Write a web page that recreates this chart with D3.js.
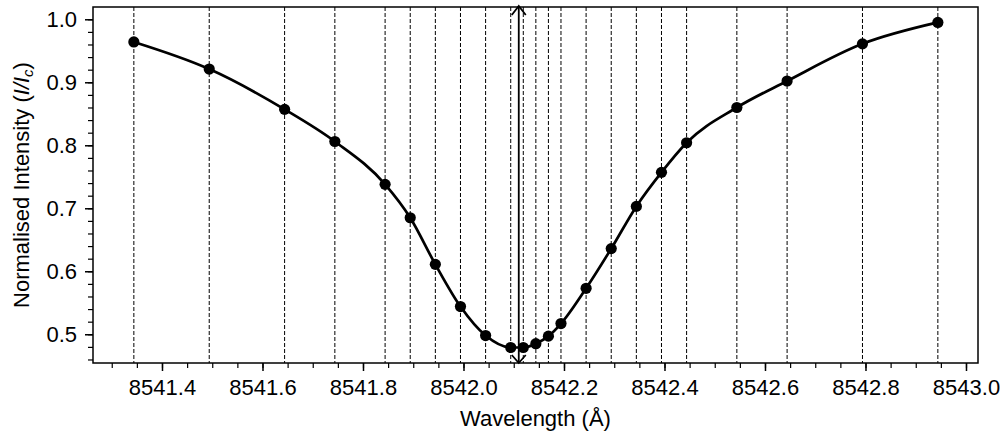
<!DOCTYPE html>
<html>
<head>
<meta charset="utf-8">
<script src="https://cdn.jsdelivr.net/npm/d3@7"></script>
<style>
  html, body { margin: 0; padding: 0; background: #fff; }
  svg { display: block; }
  text { font-family: "Liberation Sans", Arial, Helvetica, sans-serif; fill: #000; }
</style>
</head>
<body>
<svg id="chart" width="1003" height="436"></svg>
<script>
// ---- data ----
const wavelengths = [8541.344, 8541.494, 8541.644, 8541.744, 8541.844, 8541.894, 8541.944, 8541.994,
  8542.044, 8542.094, 8542.119, 8542.144, 8542.169, 8542.194, 8542.244, 8542.294, 8542.344,
  8542.394, 8542.444, 8542.544, 8542.644, 8542.794, 8542.944];
const intensities = [0.964, 0.921, 0.857, 0.806, 0.738, 0.685, 0.611, 0.544, 0.498, 0.479, 0.479,
  0.485, 0.497, 0.517, 0.573, 0.636, 0.703, 0.757, 0.804, 0.860, 0.902, 0.961, 0.995];
const arrowWavelength = [8542.11];
const xTickValues = [8541.4, 8541.6, 8541.8, 8542.0, 8542.2, 8542.4, 8542.6, 8542.8, 8543.0];
const yTickValues = [0.5, 0.6, 0.7, 0.8, 0.9, 1.0];
const xLabel = "Wavelength (Å)";

(function () {
// ---- layout ----
const pL = 93, pR = 978, pT = 7, pB = 363;
const svg = d3.select("#chart");

const x = d3.scaleLinear().domain([8541.2627, 8543.0239]).range([pL, pR]);
const y = d3.scaleLinear().domain([0.4544, 1.0195]).range([pB, pT]);

const pts = wavelengths.map((w, i) => ({ w, v: intensities[i] }));

// dashed vertical lines at sampled wavelengths
svg.append("g").selectAll("line").data(wavelengths).join("line")
  .attr("x1", d => x(d)).attr("x2", d => x(d))
  .attr("y1", pT).attr("y2", pB)
  .attr("stroke", "#000").attr("stroke-width", 1)
  .attr("stroke-dasharray", "4,2");

// double-headed arrow
const ag = svg.append("g").attr("stroke", "#000").attr("stroke-width", 1.8).attr("fill", "none");
arrowWavelength.forEach(w => {
  const ax = x(w);
  ag.append("line").attr("x1", ax).attr("x2", ax).attr("y1", pT - 1).attr("y2", pB);
  ag.append("path").attr("d", `M${ax - 7},${pT + 8} L${ax},${pT - 1} L${ax + 7},${pT + 8}`);
  ag.append("path").attr("d", `M${ax - 7},${pB - 8} L${ax},${pB} L${ax + 7},${pB - 8}`);
});

// profile line
const line = d3.line().x(d => x(d.w)).y(d => y(d.v)).curve(d3.curveMonotoneX);
svg.append("path").datum(pts).attr("d", line)
  .attr("fill", "none").attr("stroke", "#000").attr("stroke-width", 2.7);

// markers
svg.append("g").selectAll("circle").data(pts).join("circle")
  .attr("cx", d => x(d.w)).attr("cy", d => y(d.v)).attr("r", 5.6).attr("fill", "#000");

// frame
svg.append("rect").attr("x", pL).attr("y", pT).attr("width", pR - pL).attr("height", pB - pT)
  .attr("fill", "none").attr("stroke", "#000").attr("stroke-width", 1.5);

// x axis
const xMinor = d3.range(8541.30, 8543.0001, 0.05).map(v => +v.toFixed(2));
svg.append("g").attr("transform", `translate(0,${pB})`)
  .call(d3.axisBottom(x).tickValues(xMinor).tickSize(5).tickFormat(""))
  .call(g => g.select(".domain").remove())
  .call(g => g.selectAll("line").attr("stroke-width", 1.2));
svg.append("g").attr("transform", `translate(0,${pB})`)
  .call(d3.axisBottom(x).tickValues(xTickValues).tickSize(8).tickPadding(8).tickFormat(d3.format(".1f")))
  .call(g => g.select(".domain").remove())
  .call(g => g.selectAll("line").attr("stroke-width", 1.5))
  .call(g => g.selectAll("text").attr("font-size", 22).attr("font-family", "Liberation Sans, Arial, sans-serif").attr("fill", "#000"));

// y axis
const yMinor = d3.range(0.46, 1.0001, 0.02).map(v => +v.toFixed(2));
svg.append("g").attr("transform", `translate(${pL},0)`)
  .call(d3.axisLeft(y).tickValues(yMinor).tickSize(5).tickFormat(""))
  .call(g => g.select(".domain").remove())
  .call(g => g.selectAll("line").attr("stroke-width", 1.2));
svg.append("g").attr("transform", `translate(${pL},0)`)
  .call(d3.axisLeft(y).tickValues(yTickValues).tickSize(8).tickPadding(8).tickFormat(d3.format(".1f")))
  .call(g => g.select(".domain").remove())
  .call(g => g.selectAll("line").attr("stroke-width", 1.5))
  .call(g => g.selectAll("text").attr("font-size", 22).attr("font-family", "Liberation Sans, Arial, sans-serif").attr("fill", "#000"));

// axis labels
svg.append("text").attr("x", (pL + pR) / 2).attr("y", 426)
  .attr("text-anchor", "middle").attr("font-size", 22).text(xLabel);

const yl = svg.append("text")
  .attr("transform", `translate(29,${(pT + pB) / 2}) rotate(-90)`)
  .attr("text-anchor", "middle").attr("font-size", 22);
yl.append("tspan").text("Normalised Intensity (");
yl.append("tspan").attr("font-style", "italic").text("I/I");
yl.append("tspan").attr("font-style", "italic").attr("font-size", 15).attr("dy", 4).text("c");
yl.append("tspan").attr("dy", -4).text(")");
})();
</script>
</body>
</html>
